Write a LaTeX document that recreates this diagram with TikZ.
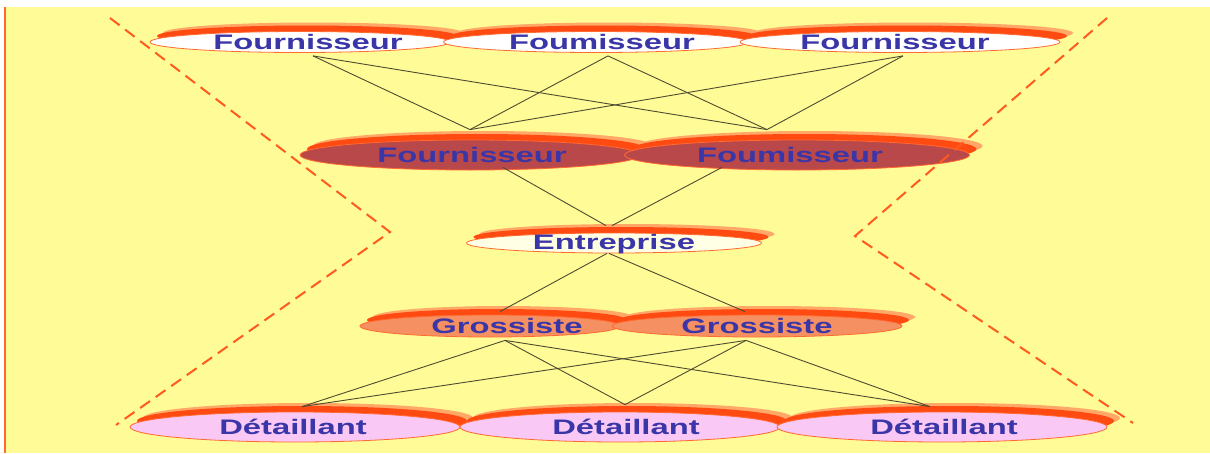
\documentclass[tikz,border=0pt]{standalone}
\usepackage{fontspec}
\setmainfont{Liberation Sans}
\usetikzlibrary{shapes.geometric,shadows}

\definecolor{bgc}{HTML}{FFFB96}
\definecolor{redc}{HTML}{FF4A12}
\definecolor{fadec}{HTML}{FFA868}
\definecolor{rimc}{HTML}{FF6A30}
\definecolor{txtc}{HTML}{3A36A8}
\definecolor{supfill}{HTML}{FFFFFF}
\definecolor{sup2fill}{HTML}{B8484A}
\definecolor{entfill}{HTML}{FFFFE6}
\definecolor{grosfill}{HTML}{F59062}
\definecolor{detfill}{HTML}{F9C8F4}
\definecolor{linkc}{HTML}{4E4C30}
\definecolor{dashc}{HTML}{FF5A20}

\newcommand{\wide}[1]{\scalebox{1.56}[1]{#1}}

\tikzset{
  blob/.style={ellipse, inner sep=0pt, draw=rimc, line width=0.8pt,
    general shadow={shadow xshift=13pt, shadow yshift=9pt, fill=fadec},
    general shadow={shadow xshift=7pt, shadow yshift=6pt, fill=redc}},
  lbl/.style={text=txtc, inner sep=0pt, font=\bfseries\fontsize{21}{24}\selectfont},
  link/.style={draw=linkc, line width=0.9pt},
  fence/.style={draw=dashc, line width=2pt, dash pattern=on 12pt off 7pt}
}

\begin{document}
\begin{tikzpicture}[x=1pt,y=-1pt]
\useasboundingbox (0,0) rectangle (1210,453);
% page background
\fill[white] (0,0) rectangle (1210,453);
\fill[bgc] (5,7) rectangle (1210,453);
\draw[rimc, line width=2pt] (5,7) -- (5,453);

% suppliers of rank 2
\node[blob, fill=supfill, minimum width=300pt, minimum height=21pt,
  label={[lbl, xshift=8pt]center:\wide{Fournisseur}}] (f1) at (300,42) {};
\node[blob, fill=supfill, minimum width=305pt, minimum height=21pt,
  label={[lbl, xshift=6pt]center:\wide{Foumisseur}}] (f2) at (596,42) {};
\node[blob, fill=supfill, minimum width=320pt, minimum height=21pt,
  label={[lbl, xshift=-5pt]center:\wide{Fournisseur}}] (f3) at (900,42) {};

% suppliers of rank 1
\node[blob, fill=sup2fill, minimum width=340pt, minimum height=30pt,
  label={[lbl, xshift=2pt]center:\wide{Fournisseur}}] (s1) at (470,155) {};
\node[blob, fill=sup2fill, minimum width=345pt, minimum height=30pt,
  label={[lbl, xshift=-7pt]center:\wide{Foumisseur}}] (s2) at (797,155) {};

% the company
\node[blob, fill=entfill, minimum width=295pt, minimum height=20pt,
  label={[lbl, yshift=-1pt]center:\wide{Entreprise}}] (e) at (614,243) {};

% wholesalers
\node[blob, fill=grosfill, minimum width=260pt, minimum height=22pt,
  label={[lbl, xshift=17pt]center:\wide{Grossiste}}] (g1) at (490,326) {};
\node[blob, fill=grosfill, minimum width=290pt, minimum height=22pt,
  label={[lbl]center:\wide{Grossiste}}] (g2) at (757,326) {};

% retailers
\node[blob, fill=detfill, minimum width=330pt, minimum height=30pt,
  label={[lbl, xshift=-2pt]center:\wide{Détaillant}}] (d1) at (295,427) {};
\node[blob, fill=detfill, minimum width=320pt, minimum height=30pt,
  label={[lbl, xshift=6pt]center:\wide{Détaillant}}] (d2) at (620,427) {};
\node[blob, fill=detfill, minimum width=330pt, minimum height=30pt,
  label={[lbl, xshift=2pt]center:\wide{Détaillant}}] (d3) at (942,427) {};

% links: rank 2 -> rank 1
\foreach \a/\ax in {f1/13, f2/12, f3/3}{
  \draw[link] ([xshift=\ax pt, yshift=-3pt]\a.south) -- ([yshift=10pt]s1.north);
  \draw[link] ([xshift=\ax pt, yshift=-3pt]\a.south) -- ([xshift=-30pt, yshift=10pt]s2.north);
}
% rank 1 -> company
\draw[link] ([xshift=33pt, yshift=3pt]s1.south) -- ([xshift=-8pt, yshift=7pt]e.north);
\draw[link] ([xshift=-75pt, yshift=3pt]s2.south) -- ([xshift=-2pt, yshift=7pt]e.north);
% company -> wholesalers
\draw[link] ([xshift=-7pt]e.south) -- ([xshift=10pt, yshift=3pt]g1.north);
\draw[link] ([xshift=-5pt]e.south) -- ([xshift=-12pt, yshift=3pt]g2.north);
% wholesalers -> retailers
\foreach \g/\gx in {g1/15, g2/-11}{
  \draw[link] ([xshift=\gx pt, yshift=-3pt]\g.south) -- ([xshift=7pt, yshift=5pt]d1.north);
  \draw[link] ([xshift=\gx pt, yshift=-3pt]\g.south) -- ([xshift=5pt, yshift=7pt]d2.north);
  \draw[link] ([xshift=\gx pt, yshift=-3pt]\g.south) -- ([xshift=-12pt, yshift=5pt]d3.north);
}

% hourglass outline
\draw[fence] (110,18) -- (390,232) -- (116,425);
\draw[fence] (1107,18) -- (855,236) -- (1133,423);
\end{tikzpicture}
\end{document}
